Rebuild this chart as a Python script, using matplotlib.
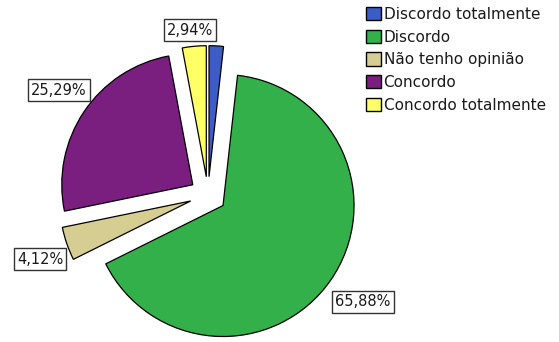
import matplotlib.pyplot as plt
from matplotlib.patches import Patch

# respostas (%), na ordem em que aparecem no gráfico
categorias = ["Discordo totalmente", "Discordo", "Não tenho opinião",
              "Concordo", "Concordo totalmente"]
percentagens = [1.77, 65.88, 4.12, 25.29, 2.94]
cores = ["#3D5CC6", "#33B04A", "#D6CD92", "#7A1F80", "#FFFF66"]
# fatias com rótulo (a de 1,77% fica sem rótulo)
com_rotulo = [False, True, True, True, True]

fig = plt.figure(figsize=(5.59, 3.42), dpi=100)
ax = fig.add_axes([0, 0, 1, 1])

escala = 131.0          # pixels por unidade de raio
cx, cy = 208.0, 195.0   # centro da pizza em pixels

ax.pie(percentagens, colors=cores, startangle=90, counterclock=False,
       explode=[0.14] * len(percentagens),
       wedgeprops=dict(edgecolor="black", linewidth=0.9))

ax.set_xlim(-cx / escala, (559 - cx) / escala)
ax.set_ylim(-(342 - cy) / escala, cy / escala)
ax.set_aspect("equal", adjustable="box")
ax.axis("off")

# posições das caixas de rótulo (pixels)
pos_rotulos = [None, (363, 302), (40, 259), (59, 90), (190, 30)]
for v, mostra, pos in zip(percentagens, com_rotulo, pos_rotulos):
    if not mostra:
        continue
    x = (pos[0] - cx) / escala
    y = (cy - pos[1]) / escala
    ax.text(x, y, f"{v:.2f}%".replace(".", ","), ha="center", va="center",
            fontsize=10.5, color="#1a1a1a",
            bbox=dict(boxstyle="square,pad=0.22", fc="white", ec="#333333", lw=1))

handles = [Patch(facecolor=c, edgecolor="black", linewidth=1) for c in cores]
fig.legend(handles, categorias, loc="upper left", bbox_to_anchor=(366 / 559, 1 - 7 / 342),
           frameon=False, fontsize=11, handlelength=0.95, handleheight=0.95,
           handletextpad=0.2, labelspacing=0.5, borderpad=0, borderaxespad=0,
           labelcolor="#1a1a1a")

fig.savefig("out.png", dpi=100)
